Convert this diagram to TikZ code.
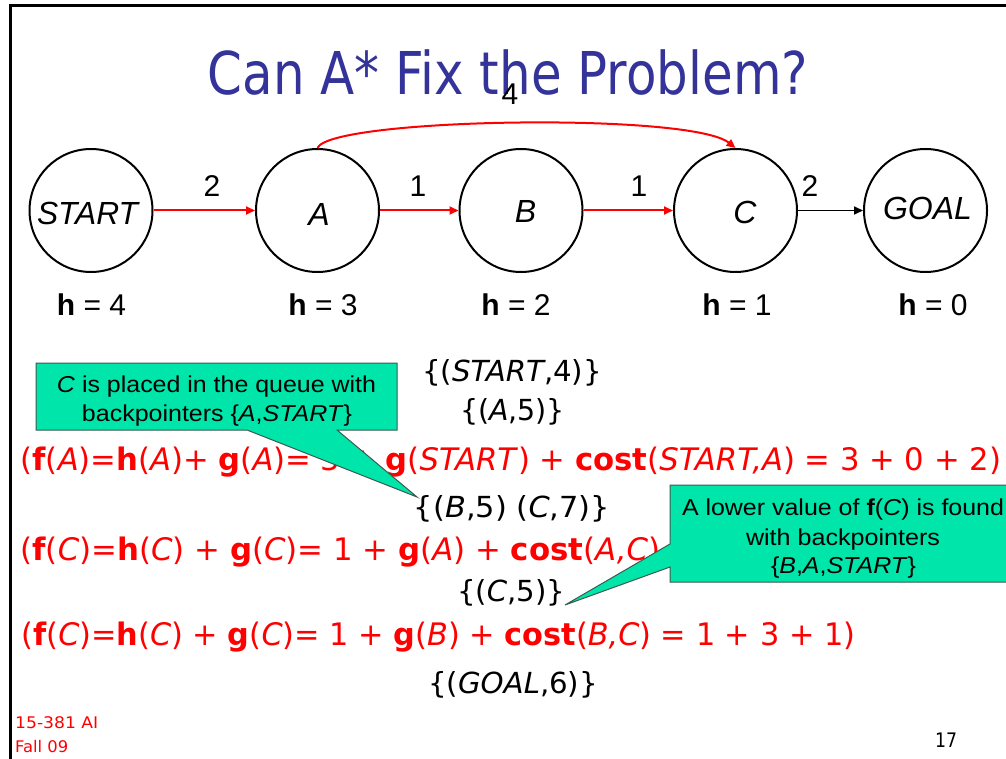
\documentclass[tikz,border=0pt]{standalone}
\usepackage{fontspec}
\setmainfont{Liberation Sans}
\newfontfamily\tah{DejaVu Sans}[ItalicFont={DejaVu Sans Oblique},BoldFont={DejaVu Sans Bold},BoldItalicFont={DejaVu Sans Bold Oblique}]
\usetikzlibrary{arrows.meta}
\definecolor{titleblue}{RGB}{51,51,153}
\definecolor{callfill}{RGB}{0,229,170}
\definecolor{callline}{RGB}{60,90,80}
\newcommand{\fitto}[2]{\resizebox{#1}{\height}{#2}}
\begin{document}
\begin{tikzpicture}[x=1pt,y=-1pt,
  state/.style={circle,draw=black,line width=2pt,minimum size=123pt,inner sep=0pt},
  redarrow/.style={draw=red,line width=2pt,-{Triangle[length=9pt,width=8pt]}},
  blackarrow/.style={draw=black,line width=1.6pt,-{Triangle[length=9pt,width=8pt]}},
  alab/.style={anchor=base,inner sep=0pt,font={\fontsize{30}{36}\selectfont}},
  ntext/.style={anchor=base,inner sep=0pt,font={\itshape\fontsize{32}{38}\selectfont}},
  tline/.style={anchor=base west,inner sep=0pt,text=red,font={\tah\fontsize{31}{37}\selectfont}},
  queue/.style={anchor=base,inner sep=0pt,font={\tah\fontsize{29}{35}\selectfont}},
  ctext/.style={anchor=base,inner sep=0pt,font={\fontsize{23}{28}\selectfont}},
  callshape/.style={fill=callfill,draw=callline,line width=1pt,line join=miter},
  foot/.style={anchor=base west,inner sep=0pt,text=red,font={\tah\fontsize{16}{19}\selectfont}}]
\useasboundingbox (0,0) rectangle (1006,759);
\clip (0,0) rectangle (1006,759);
\fill[white] (0,0) rectangle (1006,759);
% slide frame
\draw[line width=3pt] (10,759) -- (10,5.5) -- (1010,5.5);
% title
\node[anchor=base,inner sep=0pt,text=titleblue,font={\tah\fontsize{59}{70}\selectfont}] (title) at (508,95) {\fitto{600pt}{Can A* Fix the Problem?}};
% graph
\node[state] (S) at (91,210.5) {};
\node[state] (A) at (317.5,210.5) {};
\node[state] (B) at (521,210.5) {};
\node[state] (C) at (735.5,210.5) {};
\node[state] (G) at (925.5,210.5) {};
\node[ntext] (St) at (87.5,225) {\fitto{101pt}{START}};
\node[ntext] (At) at (319,226) {A};
\node[ntext] (Bt) at (525.5,223) {B};
\node[ntext] (Ct) at (745,224) {C};
\node[ntext] (Gt) at (927.5,220) {GOAL};
\draw[redarrow] (S) -- (A);
\draw[redarrow] (A) -- (B);
\draw[redarrow] (B) -- (C);
\draw[blackarrow] (C) -- (G);
\draw[redarrow] (A.north) .. controls (330,118) and (690,112) .. (C.north);
\node[alab] (e1) at (212,197) {2};
\node[alab] (e2) at (418,197) {1};
\node[alab] (e3) at (639,197) {1};
\node[alab] (e4) at (810,197) {2};
\node[alab] (e5) at (510,105) {4};
% heuristics
\node[alab] (h1) at (91.5,315) {\textbf{h} = 4};
\node[alab] (h2) at (323,315) {\textbf{h} = 3};
\node[alab] (h3) at (516,315) {\textbf{h} = 2};
\node[alab] (h4) at (737,315) {\textbf{h} = 1};
\node[alab] (h5) at (933,315) {\textbf{h} = 0};
% queue and computations
\node[queue] (q1) at (512,381) {\fitto{180pt}{\{(\textit{START},4)\}}};
\node[queue] (q2) at (512.5,420) {\fitto{105pt}{\{(\textit{A},5)\}}};
\node[tline] (r1) at (20,470) {\fitto{981pt}{(\textbf{f}(\textit{A})=\textbf{h}(\textit{A})+ \textbf{g}(\textit{A})= 3 + \textbf{g}(\textit{START}) + \textbf{cost}(\textit{START,A}) = 3 + 0 + 2)}};
\node[queue] (q3) at (512,517) {\fitto{196pt}{\{(\textit{B},5) (\textit{C},7)\}}};
\node[tline] (r2) at (20,560) {\fitto{640pt}{(\textbf{f}(\textit{C})=\textbf{h}(\textit{C}) + \textbf{g}(\textit{C})= 1 + \textbf{g}(\textit{A}) + \textbf{cost}(\textit{A,C})}};
\node[queue] (q4) at (511,601) {\fitto{108pt}{\{(\textit{C},5)\}}};
\node[tline] (r3) at (21,645) {\fitto{834pt}{(\textbf{f}(\textit{C})=\textbf{h}(\textit{C}) + \textbf{g}(\textit{C})= 1 + \textbf{g}(\textit{B}) + \textbf{cost}(\textit{B,C}) = 1 + 3 + 1)}};
\node[queue] (q5) at (513,693) {\fitto{170pt}{\{(\textit{GOAL},6)\}}};
% callout 1
\draw[callshape] (36,363) -- (397,363) -- (397,430) -- (337,430) -- (417,497) -- (247,430) -- (36,430) -- cycle;
\node[ctext] (c1a) at (216.5,392) {\fitto{319pt}{\textit{C} is placed in the queue with}};
\node[ctext] (c1b) at (217,421) {\fitto{270pt}{backpointers \{\textit{A},\textit{START}\}}};
% callout 2
\draw[callshape] (670,485) -- (1016,485) -- (1016,582) -- (670,582) -- (670,567) -- (565,605) -- (670,544) -- cycle;
\node[ctext] (c2a) at (843,515) {\fitto{322pt}{A lower value of \textbf{f}(\textit{C}) is found}};
\node[ctext] (c2b) at (843,545) {\fitto{194pt}{with backpointers}};
\node[ctext] (c2c) at (843.5,573) {\fitto{145pt}{\{\textit{B},\textit{A},\textit{START}\}}};
% footer
\node[foot] (f1) at (15,728) {\fitto{83pt}{15-381 AI}};
\node[foot] (f2) at (15,752) {\fitto{53pt}{Fall 09}};
\node[anchor=base west,inner sep=0pt,font={\tah\fontsize{20}{24}\selectfont}] (pg) at (935,747) {\fitto{22pt}{17}};
\end{tikzpicture}
\end{document}
